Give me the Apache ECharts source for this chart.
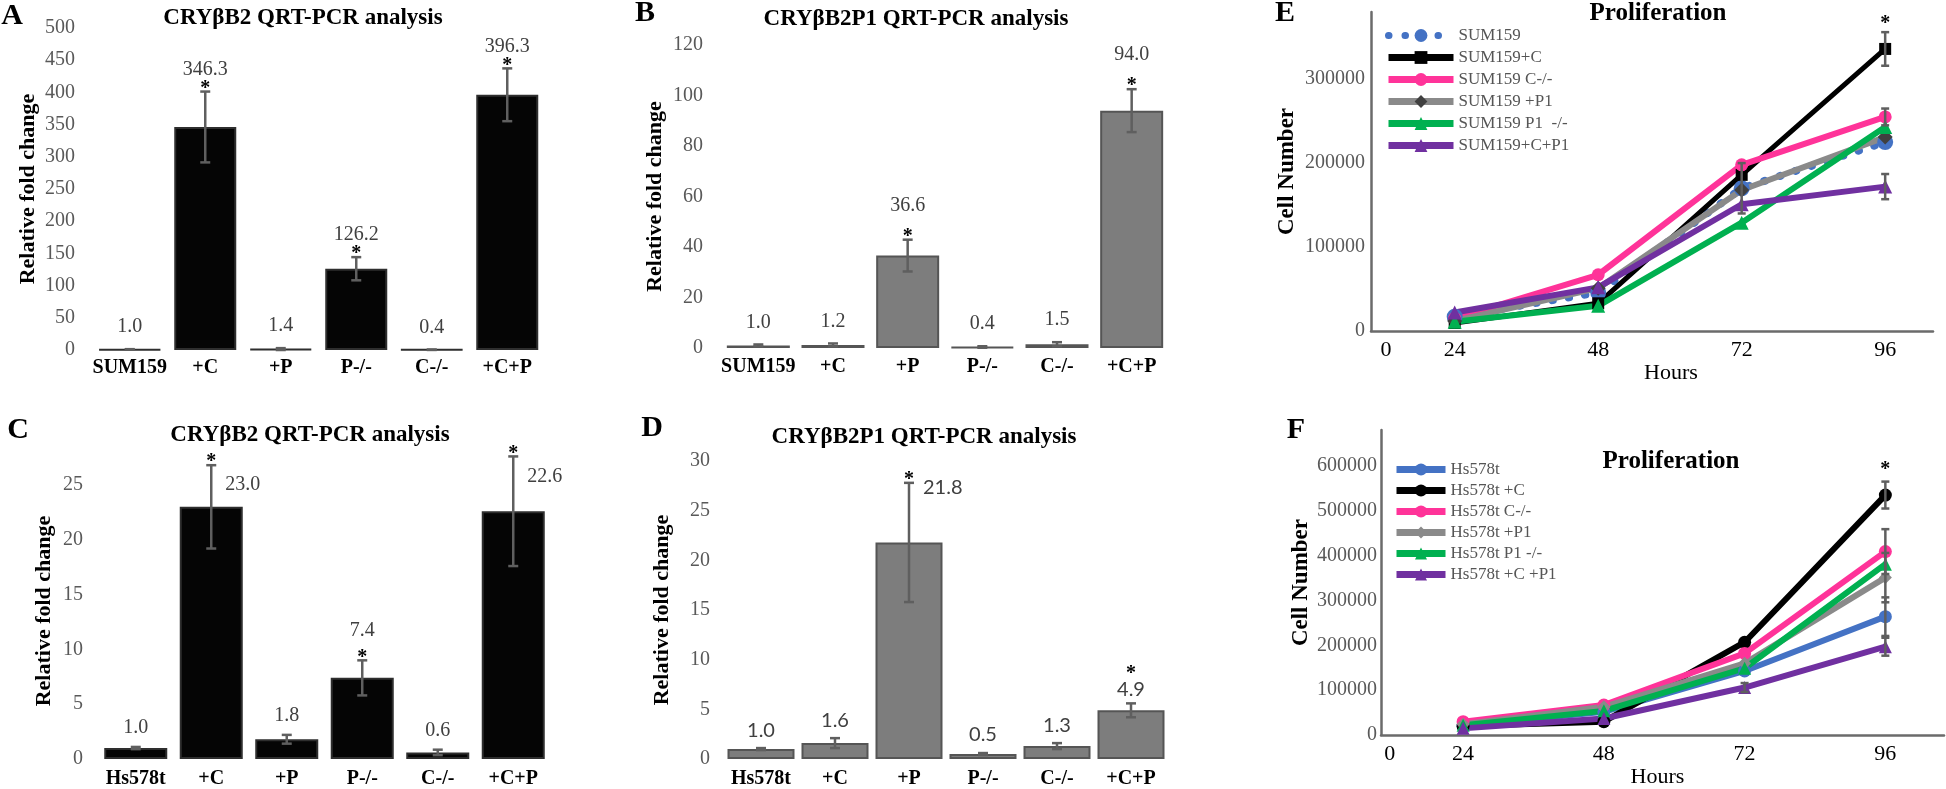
<!DOCTYPE html>
<html>
<head>
<meta charset="utf-8">
<script src="https://cdn.jsdelivr.net/npm/echarts@6/dist/echarts.min.js"></script>
<style>
  html, body { margin: 0; padding: 0; background: #fff; }
  #chart { width: 1946px; height: 789px; }
</style>
</head>
<body>
<div id="chart"></div>
<script>
// ---- data ----
const catSum = ['SUM159', '+C', '+P', 'P-/-', 'C-/-', '+C+P'];
const catHs = ['Hs578t', '+C', '+P', 'P-/-', 'C-/-', '+C+P'];

// A: CRYβB2, SUM159
const valA = [1.0, 346.3, 1.4, 126.2, 0.4, 396.3];
const errA = [0.3, 55, 1.5, 18, 0.3, 41];
const sigA = [0, 1, 0, 1, 0, 1];
// B: CRYβB2P1, SUM159
const valB = [1.0, 1.2, 36.6, 0.4, 1.5, 94.0];
const errB = [0.4, 0.6, 6.3, 0.3, 0.8, 8.5];
const sigB = [0, 0, 1, 0, 0, 1];
// C: CRYβB2, Hs578t
const valC = [1.0, 23.0, 1.8, 7.4, 0.6, 22.6];
const errC = [0.1, 3.8, 0.4, 1.6, 0.25, 5.0];
const sigC = [0, 1, 0, 1, 0, 1];
// D: CRYβB2P1, Hs578t
const valD = [1.0, 1.6, 21.8, 0.5, 1.3, 4.9];
const errD = [0.1, 0.5, 6.0, 0.1, 0.3, 0.7];
const sigD = [0, 0, 1, 0, 0, 1];

// E / F: proliferation
const hours = [24, 48, 72, 96];
const hourTicks = [0, 24, 48, 72, 96];

const sum159 = [17000, 46000, 170000, 225000];
const sum159C = [9500, 33000, 186000, 336000];
const sum159Cko = [15000, 67000, 198000, 255000];
const sum159P1 = [12000, 51000, 168000, 231000];
const sum159P1ko = [11000, 30000, 129000, 243000];
const sum159CP1 = [22000, 52000, 151000, 172000];
const errSum159 = [0, 0, 30000, 0];
const errSum159C = [0, 0, 0, 20000];
const errSum159Cko = [0, 0, 0, 10000];
const errSum159CP1 = [0, 0, 0, 15000];
const starSum159C = [0, 0, 0, 1];

const hs = [20000, 52000, 143000, 264000];
const hsC = [20000, 30000, 207000, 535000];
const hsCko = [30000, 67000, 182000, 409000];
const hsP1 = [24000, 63000, 160000, 351000];
const hsP1ko = [22000, 54000, 149000, 381000];
const hsCP1 = [15000, 37000, 106000, 197000];
const errHs = [0, 0, 0, 43000];
const errHsC = [0, 0, 0, 30000];
const errHsCko = [0, 0, 0, 50000];
const errHsP1 = [0, 0, 0, 55000];
const errHsCP1 = [0, 0, 10000, 20000];
const starHsC = [0, 0, 0, 1];

// ---- styling ----
const SERIF = "'Liberation Serif', 'Times New Roman', serif";
const SANS = "Lato, 'Liberation Sans', sans-serif";
const ERR = '#5f5f5f';

const chart = echarts.init(document.getElementById('chart'));

function barDecor(cfg) {
    return function (params, api) {
        const i = api.value(0), v = api.value(1), e = api.value(2), s = api.value(3);
        const top = api.coord([i, v + e]);
        const bot = api.coord([i, Math.max(v - e, 0)]);
        const x = top[0];
        const st = { stroke: ERR, lineWidth: 2.5 };
        const kids = [];
        if (e > 0) {
            kids.push({ type: 'line', shape: { x1: x, y1: top[1], x2: x, y2: bot[1] }, style: st });
            kids.push({ type: 'line', shape: { x1: x - 5, y1: top[1], x2: x + 5, y2: top[1] }, style: st });
            kids.push({ type: 'line', shape: { x1: x - 5, y1: bot[1], x2: x + 5, y2: bot[1] }, style: st });
        }
        const name = cfg.cats[i];
        let lx = x, align = 'center';
        let ly = top[1] - (s ? cfg.starGap : cfg.plainGap);
        let sy = top[1] - 3;
        if (cfg.labelRight.includes(name)) {
            lx = x + 14; ly = top[1] + cfg.rightDy; align = 'left';
        } else if (cfg.starTop.includes(name)) {
            ly = top[1] - 14; sy = top[1] - 30;
        }
        kids.push({
            type: 'text',
            style: { x: lx, y: ly, text: v.toFixed(1), fill: '#404040', fontSize: 20,
                fontFamily: cfg.font, align: align, verticalAlign: 'middle' }
        });
        if (s) {
            kids.push({
                type: 'text',
                style: { x: x, y: sy, text: '*', fill: '#000', fontSize: 20, fontWeight: 'bold',
                    fontFamily: SERIF, align: 'center', verticalAlign: 'middle' }
            });
        }
        return { type: 'group', children: kids };
    };
}

function barPanel(idx, cats, vals, errs, sig, color, border, barWidth, cfg) {
    return [
        {
            type: 'bar', xAxisIndex: idx, yAxisIndex: idx, data: vals, barWidth: barWidth,
            itemStyle: { color: color, borderColor: border, borderWidth: 2 }
        },
        {
            type: 'custom', xAxisIndex: idx, yAxisIndex: idx, clip: false, z: 5,
            encode: { x: 0, y: 1 },
            data: cats.map((c, i) => [i, vals[i], errs[i], sig[i]]),
            renderItem: barDecor(Object.assign({ cats: cats }, cfg))
        }
    ];
}

function lineDecor(idx, vals, errs, stars, starGap) {
    return {
        type: 'custom', xAxisIndex: idx, yAxisIndex: idx, clip: false, z: 4,
        encode: { x: 0, y: 1 },
        data: hours.map((h, i) => [h, vals[i], errs[i], stars ? stars[i] : 0]),
        renderItem: function (params, api) {
            const h = api.value(0), v = api.value(1), e = api.value(2), s = api.value(3);
            const top = api.coord([h, v + e]);
            const bot = api.coord([h, v - e]);
            const x = top[0];
            const st = { stroke: ERR, lineWidth: 2.5 };
            const kids = [];
            if (e > 0) {
                kids.push({ type: 'line', shape: { x1: x, y1: top[1], x2: x, y2: bot[1] }, style: st });
                kids.push({ type: 'line', shape: { x1: x - 4, y1: top[1], x2: x + 4, y2: top[1] }, style: st });
                kids.push({ type: 'line', shape: { x1: x - 4, y1: bot[1], x2: x + 4, y2: bot[1] }, style: st });
            }
            if (s) {
                kids.push({
                    type: 'text',
                    style: { x: x, y: top[1] - starGap, text: '*', fill: '#000', fontSize: 20,
                        fontWeight: 'bold', fontFamily: SERIF, align: 'center', verticalAlign: 'middle' }
                });
            }
            return { type: 'group', children: kids };
        }
    };
}

function line(idx, name, vals, color, symbol, size, lineWidth, extra) {
    return Object.assign({
        type: 'line', name: name, xAxisIndex: idx, yAxisIndex: idx,
        data: hours.map((h, i) => [h, vals[i]]),
        symbol: symbol, symbolSize: size, color: color,
        lineStyle: { width: lineWidth, color: color },
        itemStyle: { color: color }, z: 3
    }, extra || {});
}

const catAxisLabel = { fontWeight: 'bold', fontSize: 20, color: '#000', fontFamily: SERIF, interval: 0 };
const valAxisLabel = { fontSize: 20, color: '#595959', fontFamily: SERIF };
const yName = { fontWeight: 'bold', fontSize: 22, color: '#000', fontFamily: SERIF };

function catAxis(idx, cats, margin) {
    return {
        type: 'category', gridIndex: idx, data: cats,
        axisLine: { show: false }, axisTick: { show: false },
        axisLabel: Object.assign({ margin: margin }, catAxisLabel)
    };
}
function fcAxis(idx, max, interval, margin, gap, hideMax) {
    return {
        type: 'value', gridIndex: idx, min: 0, max: max, interval: interval,
        splitLine: { show: false }, axisLine: { show: false }, axisTick: { show: false },
        axisLabel: Object.assign({ margin: margin, showMaxLabel: !hideMax }, valAxisLabel),
        name: 'Relative fold change', nameLocation: 'middle', nameGap: gap, nameTextStyle: yName
    };
}

function hourAxis(idx, min, max, zeroShift, nameGap, namePad) {
    return {
        type: 'value', gridIndex: idx, min: min, max: max,
        splitLine: { show: false }, axisTick: { show: false },
        axisLine: { onZero: false, lineStyle: { color: '#6b6b6b', width: 2.5 } },
        axisLabel: {
            customValues: hourTicks.map(h => Math.max(h, min + zeroShift)),
            formatter: v => (v < hourTicks[1] ? String(hourTicks[0]) : String(v)),
            color: '#000', fontSize: 22, fontFamily: SERIF, margin: 8
        },
        name: 'Hours', nameLocation: 'middle', nameGap: nameGap,
        nameTextStyle: { color: '#000', fontSize: 22, fontFamily: SERIF, padding: [0, 0, 0, namePad] }
    };
}
function cellAxis(idx, max, gap, margin) {
    return {
        type: 'value', gridIndex: idx, min: 0, max: max, interval: 100000,
        splitLine: { show: false }, axisTick: { show: false },
        axisLine: { show: true, onZero: false, lineStyle: { color: '#6b6b6b', width: 2.5 } },
        axisLabel: { showMaxLabel: false, margin: margin, fontSize: 20, color: '#595959', fontFamily: SERIF,
            formatter: v => String(v) },
        name: 'Cell Number', nameLocation: 'middle', nameGap: gap,
        nameTextStyle: { fontWeight: 'bold', fontSize: 23, color: '#000', fontFamily: SERIF }
    };
}

function label(text, x, y, size, bold, font) {
    return {
        type: 'text', x: x, y: y,
        style: { text: text, fill: '#000', fontSize: size, fontWeight: bold ? 'bold' : 'normal',
            fontFamily: font || SERIF, align: 'center', verticalAlign: 'middle' }
    };
}

const namesE = ['SUM159', 'SUM159+C', 'SUM159 C-/-', 'SUM159 +P1', 'SUM159 P1  -/-', 'SUM159+C+P1'];
const namesF = ['Hs578t', 'Hs578t +C', 'Hs578t C-/-', 'Hs578t +P1', 'Hs578t P1 -/-', 'Hs578t +C +P1'];

const option = {
    animation: false,
    backgroundColor: '#fff',
    grid: [
        { left: 92, top: 28, width: 453, height: 322 },
        { left: 721, top: 45, width: 448, height: 303 },
        { left: 98, top: 463, width: 453, height: 300 },
        { left: 724, top: 461, width: 444, height: 301 },
        { left: 1371, top: 12, width: 562, height: 319 },
        { left: 1381, top: 430, width: 563, height: 314 }
    ],
    xAxis: [
        catAxis(0, catSum, 8),
        catAxis(1, catSum, 9),
        catAxis(2, catHs, 10),
        catAxis(3, catHs, 10),
        hourAxis(4, 10, 104, 2.5, 22, 38),
        hourAxis(5, 10, 106, 1.5, 25, -10)
    ],
    yAxis: [
        fcAxis(0, 500, 50, 17, 53, false),
        fcAxis(1, 120, 20, 18, 55, false),
        fcAxis(2, 27, 5, 15, 43, true),
        fcAxis(3, 30, 5, 14, 51, false),
        cellAxis(4, 380000, 72, 6),
        cellAxis(5, 680000, 68, 4)
    ],
    legend: [
        {
            data: namesE, orient: 'vertical', left: 1385, top: 27, padding: 0,
            itemWidth: 65, itemHeight: 16, itemGap: 5,
            lineStyle: { width: 7 },
            textStyle: { fontSize: 17, color: '#555', fontFamily: SERIF }
        },
        {
            data: namesF, orient: 'vertical', left: 1393, top: 461, padding: 0,
            itemWidth: 49, itemHeight: 15, itemGap: 4,
            lineStyle: { width: 7 },
            textStyle: { fontSize: 17, color: '#555', fontFamily: SERIF }
        }
    ],
    graphic: [
        label('A', 12, 16, 30, true),
        label('B', 645, 13, 30, true),
        label('C', 18, 430, 30, true),
        label('D', 652, 428, 30, true),
        label('E', 1285, 13, 30, true),
        label('F', 1296, 430, 30, true),
        label('CRYβB2 QRT-PCR analysis', 303, 18, 23, true),
        label('CRYβB2P1 QRT-PCR analysis', 916, 19, 23, true),
        label('CRYβB2 QRT-PCR analysis', 310, 435, 23, true),
        label('CRYβB2P1 QRT-PCR analysis', 924, 437, 23, true),
        label('Proliferation', 1658, 14, 25, true),
        label('Proliferation', 1671, 462, 25, true)
    ],
    series: [].concat(
        barPanel(0, catSum, valA, errA, sigA, '#050505', '#2e2e2e', 62,
            { labelRight: [], starTop: [], starGap: 22, plainGap: 22, rightDy: 0, font: SERIF }),
        barPanel(1, catSum, valB, errB, sigB, '#7d7d7d', '#555', 63,
            { labelRight: [], starTop: [], starGap: 34, plainGap: 22, rightDy: 0, font: SERIF }),
        barPanel(2, catHs, valC, errC, sigC, '#050505', '#2e2e2e', 63,
            { labelRight: ['+C', '+C+P'], starTop: [], starGap: 30, plainGap: 19, rightDy: 20, font: SERIF }),
        barPanel(3, catHs, valD, errD, sigD, '#7d7d7d', '#555', 67,
            { labelRight: ['+P'], starTop: ['+C+P'], starGap: 30, plainGap: 18, rightDy: 5, font: SANS }),
        [
            line(4, namesE[0], sum159, '#4472C4', 'circle', 16, 8,
                { lineStyle: { width: 8, color: '#4472C4', type: [0.5, 16], cap: 'round' } }),
            line(4, namesE[1], sum159C, '#000000', 'rect', 12, 5),
            line(4, namesE[2], sum159Cko, '#FF3399', 'circle', 13, 6),
            line(4, namesE[3], sum159P1, '#8a8a8a', 'diamond', 15, 6, { itemStyle: { color: '#404040' } }),
            line(4, namesE[4], sum159P1ko, '#00B050', 'triangle', 14, 6),
            line(4, namesE[5], sum159CP1, '#7030A0', 'triangle', 14, 6),
            lineDecor(4, sum159, errSum159, null, 0),
            lineDecor(4, sum159C, errSum159C, starSum159C, 8),
            lineDecor(4, sum159Cko, errSum159Cko, null, 0),
            lineDecor(4, sum159CP1, errSum159CP1, null, 0),

            line(5, namesF[0], hs, '#4472C4', 'circle', 13, 6),
            line(5, namesF[1], hsC, '#000000', 'circle', 13, 6),
            line(5, namesF[2], hsCko, '#FF3399', 'circle', 13, 6),
            line(5, namesF[3], hsP1, '#8a8a8a', 'diamond', 13, 6),
            line(5, namesF[4], hsP1ko, '#00B050', 'triangle', 13, 6),
            line(5, namesF[5], hsCP1, '#7030A0', 'triangle', 13, 6),
            lineDecor(5, hs, errHs, null, 0),
            lineDecor(5, hsC, errHsC, starHsC, 12),
            lineDecor(5, hsCko, errHsCko, null, 0),
            lineDecor(5, hsP1, errHsP1, null, 0),
            lineDecor(5, hsCP1, errHsCP1, null, 0)
        ]
    )
};

chart.setOption(option);
window.addEventListener('resize', () => chart.resize());
</script>
</body>
</html>
